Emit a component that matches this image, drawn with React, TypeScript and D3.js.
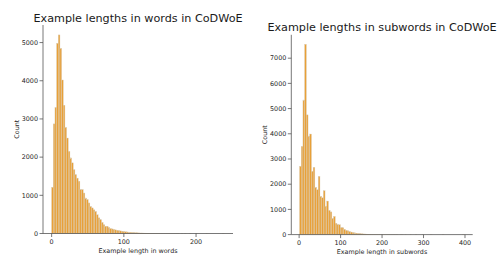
import * as d3 from "d3";
import { useEffect, useRef } from "react";

// histogram of example lengths in words (bin width ~2.3 words, starting at 0)
const wordBinStart = 0;
const wordBinWidth = 2.3;
const wordCounts = [
  1210, 2870, 3300, 4980, 5200, 4850, 4020, 3360, 2780, 2500, 2150, 1980, 1850,
  1670, 1540, 1450, 1370, 1150, 1150, 1060, 930, 890, 800, 710, 670, 620, 580,
  490, 410, 360, 290, 230, 190, 190, 160, 130, 120, 105, 95, 85, 75, 68, 60, 52,
  45, 40, 35, 30, 26, 22, 20, 18, 15, 13, 12, 10, 9, 8, 7, 6, 5, 5, 4, 4, 3, 3,
  3, 2, 2, 2, 2, 1, 1, 1, 1, 1, 1, 0, 1, 0, 1, 0, 0, 1, 0, 0, 0, 1, 0, 0, 0, 0,
  0, 1, 0, 0, 0, 0, 0, 0, 0, 0, 0, 1,
];
const wordTicksY = [0, 1000, 2000, 3000, 4000, 5000];
const wordTicksX = [0, 100, 200];

// histogram of example lengths in subwords (bin width ~4.1 subwords, starting at 1)
const subBinStart = 1;
const subBinWidth = 4.1;
const subCounts = [
  2710, 3500, 5340, 7550, 4750, 3910, 3990, 2510, 2670, 1880, 1780, 2310, 1520,
  1460, 1740, 1130, 1330, 960, 900, 650, 720, 450, 400, 390, 280, 270, 210, 170,
  150, 120, 100, 80, 70, 55, 45, 40, 32, 26, 22, 18, 15, 12, 10, 8, 7, 6, 5, 4,
  4, 3, 3, 2, 2, 2, 1, 1, 1, 1, 0, 1, 1, 0, 1, 0, 0, 1, 0, 0, 1, 0, 0, 0, 1, 0,
  0, 0, 0, 1, 0, 0, 0, 0, 0, 0, 1, 0, 0, 0, 0, 0, 0, 0, 0, 0, 0, 0, 1,
];
const subTicksY = [0, 1000, 2000, 3000, 4000, 5000, 6000, 7000];
const subTicksX = [0, 100, 200, 300, 400];

const FONT = "DejaVu Sans, sans-serif";
const BAR_FILL = "#E8A038";
const BAR_EDGE = "#d9ccb4";
const AXIS = "#555";
const TEXT = "#262626";

function drawHist(svg, opts) {
  const { counts, binStart, binWidth, box, ticksX, ticksY, title, xlabel, titleY } = opts;
  const n = counts.length;
  const lo = binStart;
  const hi = binStart + n * binWidth;
  const pad = (hi - lo) * 0.05;
  const x = d3.scaleLinear().domain([lo - pad, hi + pad]).range([box.x0, box.x1]);
  const y = d3.scaleLinear().domain([0, d3.max(counts) * 1.05]).range([box.y1, box.y0]);

  const g = svg.append("g");

  g.selectAll("rect.bar")
    .data(counts)
    .enter()
    .append("rect")
    .attr("class", "bar")
    .attr("x", (_, i) => x(lo + i * binWidth))
    .attr("width", (_, i) => x(lo + (i + 1) * binWidth) - x(lo + i * binWidth))
    .attr("y", (d) => y(d))
    .attr("height", (d) => y(0) - y(d))
    .attr("fill", BAR_FILL)
    .attr("stroke", BAR_EDGE)
    .attr("stroke-width", 0.4);

  // spines (left + bottom only)
  g.append("line")
    .attr("x1", box.x0).attr("x2", box.x0)
    .attr("y1", box.y0).attr("y2", box.y1)
    .attr("stroke", AXIS).attr("stroke-width", 0.8);
  g.append("line")
    .attr("x1", box.x0).attr("x2", box.x1)
    .attr("y1", box.y1).attr("y2", box.y1)
    .attr("stroke", AXIS).attr("stroke-width", 0.8);

  ticksY.forEach((t) => {
    g.append("line")
      .attr("x1", box.x0 - 3.5).attr("x2", box.x0)
      .attr("y1", y(t)).attr("y2", y(t))
      .attr("stroke", AXIS).attr("stroke-width", 0.8);
    g.append("text")
      .attr("x", box.x0 - 5)
      .attr("y", y(t) + 2.3)
      .attr("text-anchor", "end")
      .attr("font-family", FONT)
      .attr("font-size", 6.4)
      .attr("fill", TEXT)
      .text(t);
  });

  ticksX.forEach((t) => {
    g.append("line")
      .attr("x1", x(t)).attr("x2", x(t))
      .attr("y1", box.y1).attr("y2", box.y1 + 3.5)
      .attr("stroke", AXIS).attr("stroke-width", 0.8);
    g.append("text")
      .attr("x", x(t))
      .attr("y", box.y1 + 10.5)
      .attr("text-anchor", "middle")
      .attr("font-family", FONT)
      .attr("font-size", 6.4)
      .attr("fill", TEXT)
      .text(t);
  });

  const cx = (box.x0 + box.x1) / 2;
  const cy = (box.y0 + box.y1) / 2;

  g.append("text")
    .attr("x", cx)
    .attr("y", titleY)
    .attr("text-anchor", "middle")
    .attr("font-family", FONT)
    .attr("font-size", 11.2)
    .attr("fill", "#1a1a1a")
    .text(title);

  g.append("text")
    .attr("x", cx)
    .attr("y", box.y1 + 19.5)
    .attr("text-anchor", "middle")
    .attr("font-family", FONT)
    .attr("font-size", 6.4)
    .attr("fill", TEXT)
    .text(xlabel);

  g.append("text")
    .attr("transform", `translate(${box.x0 - 24.5},${cy}) rotate(-90)`)
    .attr("text-anchor", "middle")
    .attr("font-family", FONT)
    .attr("font-size", 6.4)
    .attr("fill", TEXT)
    .text("Count");
}

export default function App() {
  const svgRef = useRef(null);

  useEffect(() => {
    const svg = d3.select(svgRef.current);
    svg.selectAll("*").remove();

    drawHist(svg, {
      counts: wordCounts,
      binStart: wordBinStart,
      binWidth: wordBinWidth,
      box: { x0: 43, x1: 233, y0: 25, y1: 233.5 },
      ticksX: wordTicksX,
      ticksY: wordTicksY,
      title: "Example lengths in words in CoDWoE",
      xlabel: "Example length in words",
      titleY: 21.7,
    });

    drawHist(svg, {
      counts: subCounts,
      binStart: subBinStart,
      binWidth: subBinWidth,
      box: { x0: 291.3, x1: 472.7, y0: 34.8, y1: 234.6 },
      ticksX: subTicksX,
      ticksY: subTicksY,
      title: "Example lengths in subwords in CoDWoE",
      xlabel: "Example length in subwords",
      titleY: 30.7,
    });
  }, []);

  return (
    <svg
      ref={svgRef}
      width={497}
      height={255}
      style={{ position: "absolute", left: 0, top: 0, background: "#fff" }}
    ></svg>
  );
}
